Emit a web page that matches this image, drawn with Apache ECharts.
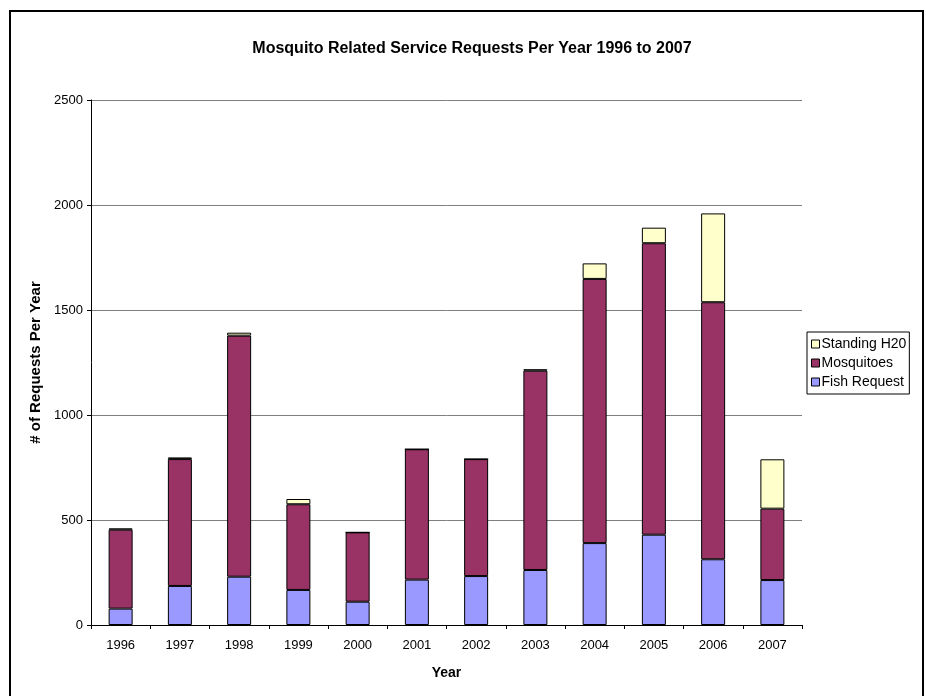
<!DOCTYPE html>
<html>
<head>
<meta charset="utf-8">
<script src="https://cdn.jsdelivr.net/npm/echarts@6/dist/echarts.min.js"></script>
<style>
  html, body { margin: 0; padding: 0; background: #fff; }
  #chart { width: 926px; height: 696px; }
</style>
</head>
<body>
<div id="chart"></div>
<script>
// values
const years = ['1996', '1997', '1998', '1999', '2000', '2001', '2002', '2003', '2004', '2005', '2006', '2007']
const fishRequest = [78, 186, 230, 167, 111, 216, 233, 262, 390, 430, 313, 214]
const mosquitoes = [376, 604, 1148, 408, 330, 621, 557, 949, 1258, 1388, 1224, 340]
const standingH20 = [6, 8, 14, 25, 0, 0, 0, 7, 74, 74, 423, 235]

const font = 'Arial, "Liberation Sans", sans-serif'

const chart = echarts.init(document.getElementById('chart'))

const barStyle = color => ({
    color: color,
    borderColor: '#000',
    borderWidth: 1
})

const option = {
    animation: false,
    textStyle: { fontFamily: font },
    title: {
        text: 'Mosquito Related Service Requests Per Year 1996 to 2007',
        left: 467,
        top: 36,
        textAlign: 'center',
        textStyle: { fontFamily: font, fontSize: 16, fontWeight: 'bold', color: '#000' }
    },
    graphic: [{
        type: 'rect',
        shape: { x: 10, y: 11, width: 913, height: 700 },
        style: { fill: 'none', stroke: '#000', lineWidth: 2 },
        silent: true
    }],
    grid: {
        left: 91,
        right: 124,
        top: 100,
        bottom: 71,
        containLabel: false
    },
    legend: {
        orient: 'vertical',
        left: 807,
        top: 332,
        data: ['Standing H20', 'Mosquitoes', 'Fish Request'],
        itemWidth: 8,
        itemHeight: 8,
        itemGap: 5,
        padding: [5, 3, 5, 4],
        borderColor: '#000',
        borderWidth: 1,
        icon: 'rect',
        itemStyle: { borderColor: '#000', borderWidth: 1 },
        textStyle: { fontFamily: font, fontSize: 14, color: '#000', padding: [0, 0, 0, -3] }
    },
    xAxis: {
        type: 'category',
        data: years,
        name: 'Year',
        nameLocation: 'middle',
        nameGap: 41,
        nameTextStyle: { fontFamily: font, fontSize: 14, fontWeight: 'bold', color: '#000' },
        axisLine: { lineStyle: { color: '#000', width: 1 } },
        axisTick: { show: true, length: 4, lineStyle: { color: '#000' } },
        axisLabel: { fontFamily: font, fontSize: 13, color: '#000', margin: 14 }
    },
    yAxis: {
        type: 'value',
        min: 0,
        max: 2500,
        interval: 500,
        name: '# of Requests Per Year',
        nameLocation: 'middle',
        nameGap: 43,
        nameRotate: 90,
        nameTextStyle: { fontFamily: font, fontSize: 15, fontWeight: 'bold', color: '#000' },
        axisLine: { show: true, lineStyle: { color: '#000', width: 1 } },
        axisTick: { show: true, length: 4, lineStyle: { color: '#000' } },
        axisLabel: {
            fontFamily: font,
            fontSize: 13,
            color: '#000',
            margin: 8,
            formatter: val => String(val)
        },
        splitLine: { show: true, lineStyle: { color: '#7f7f7f', width: 1 } }
    },
    series: [
        {
            name: 'Fish Request',
            type: 'bar',
            stack: 'total',
            barWidth: 24,
            data: fishRequest,
            itemStyle: barStyle('#9999FF')
        },
        {
            name: 'Mosquitoes',
            type: 'bar',
            stack: 'total',
            barWidth: 24,
            data: mosquitoes,
            itemStyle: barStyle('#993366')
        },
        {
            name: 'Standing H20',
            type: 'bar',
            stack: 'total',
            barWidth: 24,
            data: standingH20,
            itemStyle: barStyle('#FFFFCC')
        }
    ]
}

chart.setOption(option)
</script>
</body>
</html>
